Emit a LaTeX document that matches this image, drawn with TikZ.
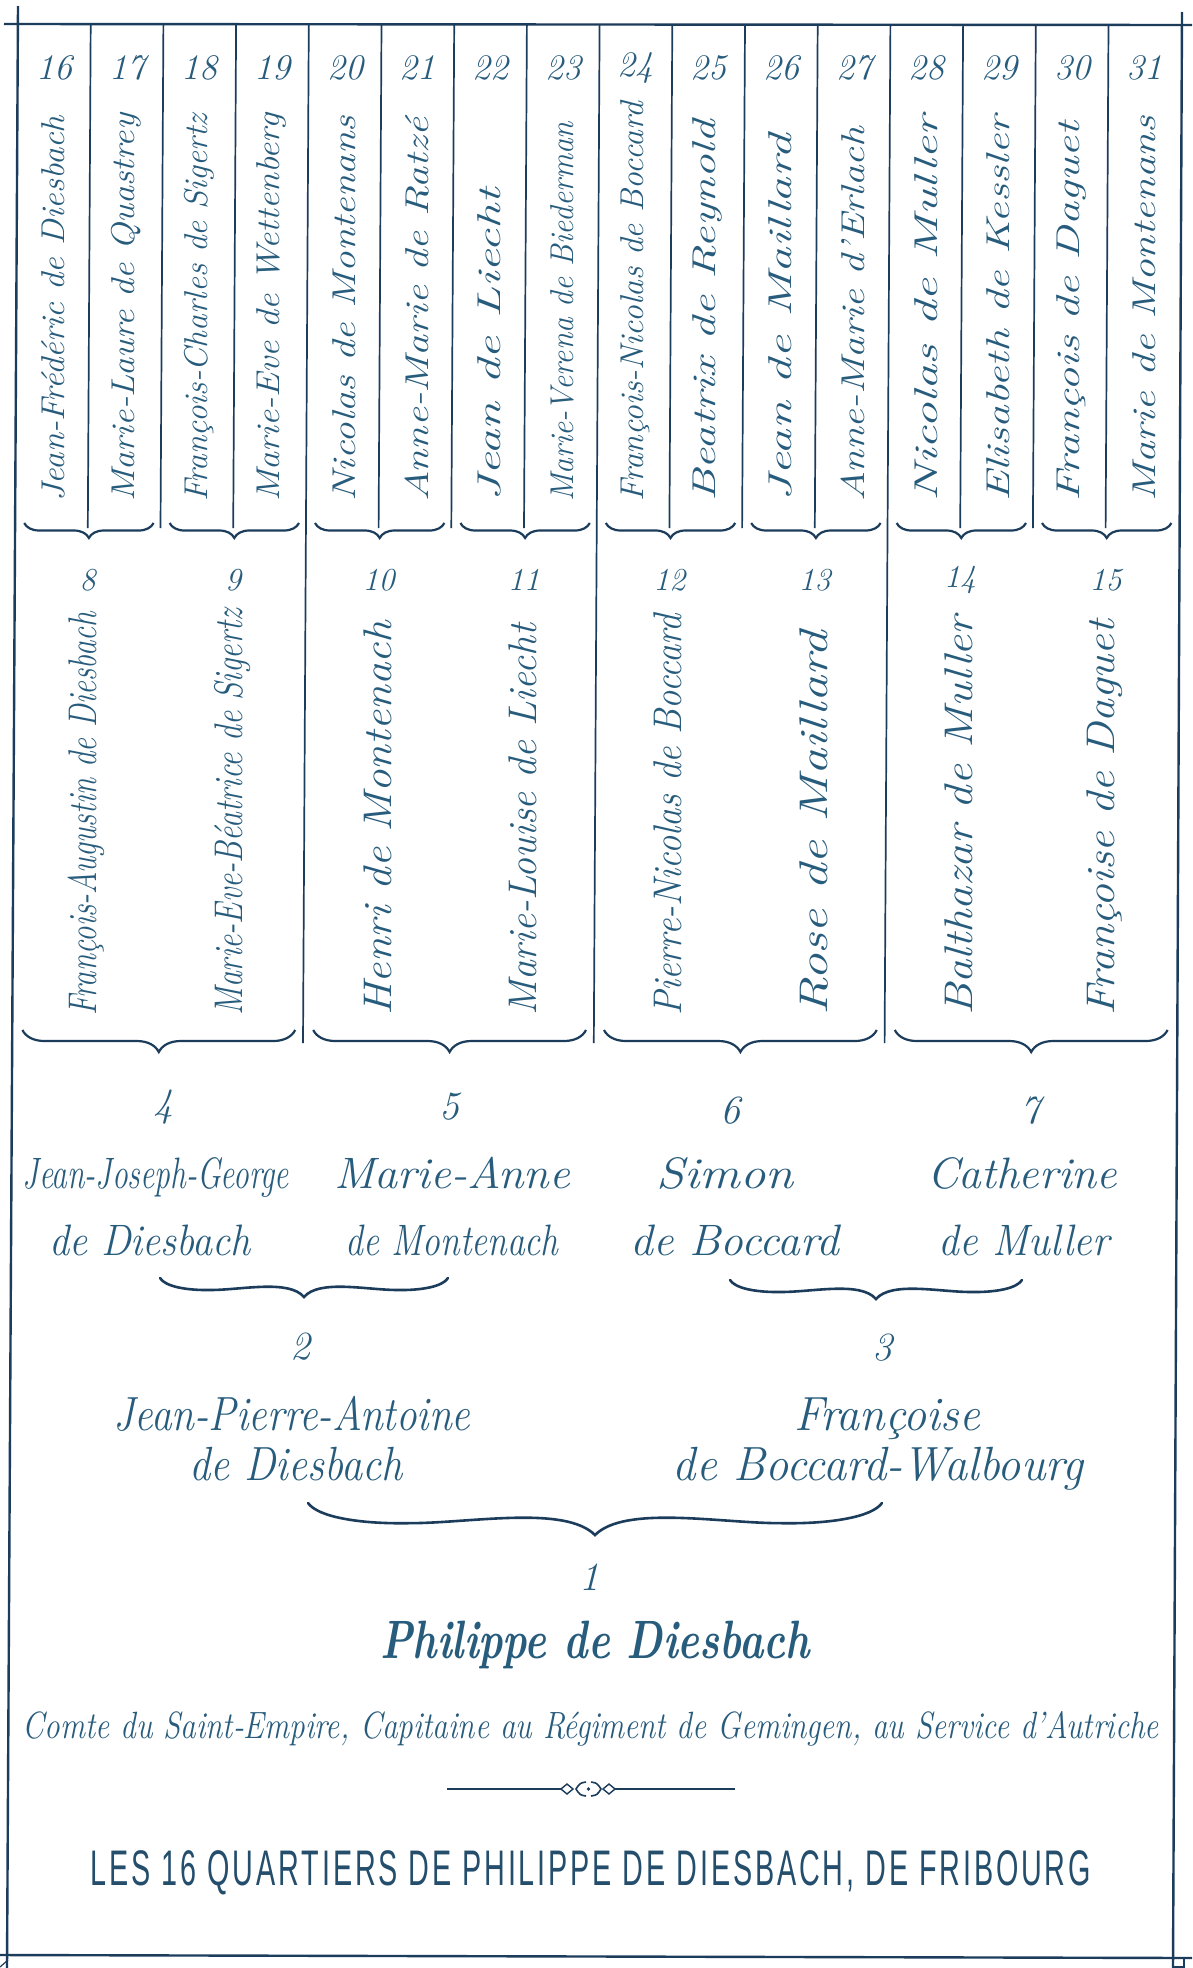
\documentclass[tikz,border=0pt]{standalone}
\usepackage{fontspec}
\usepackage{graphicx}
\usetikzlibrary{decorations.pathreplacing}
\newfontfamily\titlefont[LetterSpace=10]{Liberation Sans}
\definecolor{ink}{RGB}{40,92,125}
\definecolor{rulec}{RGB}{28,60,92}
\definecolor{titlec}{RGB}{36,78,108}
\newcommand\fitw[3]{\resizebox{#1pt}{\height}{\fontsize{#2pt}{#2pt}\selectfont\addfontfeature{FakeBold=1.3}#3}}
\newcommand\fitt[3]{\resizebox{#1pt}{\height}{\fontsize{#2pt}{#2pt}\selectfont #3}}
% calligraphic brace: left coord, right coord, x1, x2, y of tips, depth of cusp
\newcommand\wbrace[6]{%
  \pgfmathsetmacro\wbh{(#4-#3)/2}%
  \draw[wbr] (#1) .. controls ({#3+0.035*\wbh},{#5+0.44*#6}) and ({#3+0.18*\wbh},{#5+0.66*#6}) .. ({#3+0.355*\wbh},{#5+0.63*#6})
    .. controls ({#3+0.565*\wbh},{#5+0.63*#6}) and ({#3+0.895*\wbh},{#5+0.06*#6}) .. ({#3+\wbh},{#5+#6})
    .. controls ({#4-0.895*\wbh},{#5+0.06*#6}) and ({#4-0.565*\wbh},{#5+0.63*#6}) .. ({#4-0.355*\wbh},{#5+0.63*#6})
    .. controls ({#4-0.18*\wbh},{#5+0.66*#6}) and ({#4-0.035*\wbh},{#5+0.44*#6}) .. (#2);}
\begin{document}
\begin{tikzpicture}[x=1pt,y=-1pt,
  borderline/.style={draw=rulec, line width=2.4pt},
  divider/.style={draw=rulec, line width=1.7pt},
  bracel/.style={draw=rulec, line width=2.2pt, decorate, decoration={brace, mirror, amplitude=#1}},
  wbr/.style={draw=rulec, line width=2.6pt, line cap=round},
  num/.style={text=ink, inner sep=0pt, font=\fontsize{#1pt}{#1pt}\selectfont\itshape\addfontfeature{FakeBold=0.8}},
  vname/.style={text=ink, rotate=90, anchor=west, inner sep=0pt, font=\itshape},
  hname/.style={text=ink, anchor=base, inner sep=0pt, font=\itshape},
]
\useasboundingbox (0,0) rectangle (1192,1968);
\fill[white] (0,0) rectangle (1192,1968);

% frame
\draw[borderline] (4,24) -- (1192,25);
\draw[borderline] (18,6) -- (7,1968);
\draw[borderline] (1182,12) -- (1173,1968);
\draw[borderline] (0,1955) -- (1192,1958);
\draw[rulec, line width=1.2pt] (0,1967) -- (8,1960);
\draw[rulec, line width=1.2pt] (1173,1967) -- (1184,1967) -- (1184,1958);

% dividers
\foreach \kk in {1,2,3,5,6,7,9,10,11,13,14,15}
  \draw[divider] ({18+72.7*\kk},25) -- ({18+72.7*\kk-2.9},528);
\foreach \kk in {4,8,12}
  \draw[divider] ({18+72.7*\kk},25) -- ({18+72.7*\kk-5.8},1043);

% top row: generation 5
\foreach \kk/\nn/\nm/\tw in {
  0/16/Jean-Frédéric de Diesbach/386,
  1/17/Marie-Laure de Quastrey/388,
  2/18/François-Charles de Sigertz/388,
  3/19/Marie-Eve de Wettenberg/388,
  4/20/Nicolas de Montenans/386,
  5/21/Anne-Marie de Ratzé/384,
  6/22/Jean de Liecht/314,
  7/23/Marie-Verena de Biederman/380,
  8/24/François-Nicolas de Boccard/400,
  9/25/Beatrix de Reynold/382,
  10/26/Jean de Maillard/368,
  11/27/Anne-Marie d’Erlach/375,
  12/28/Nicolas de Muller/386,
  13/29/Elisabeth de Kessler/386,
  14/30/François de Daguet/380,
  15/31/Marie de Montenans/386}{
  \node[num=36] (n\nn) at ({18+72.7*(\kk+0.5)},68) {\nn};
  \node[vname] (p\nn) at ({18+72.7*(\kk+0.5)-1},502) {\fitw{\tw}{33}{\nm}};
}

% top braces
\foreach \jj in {0,...,7}{
  \coordinate (tbl\jj) at ({18+145.4*\jj+9-2.8},523);
  \coordinate (tbr\jj) at ({18+145.4*(\jj+1)-7-2.8},523);
  \draw[bracel=15] (tbl\jj) -- (tbr\jj);
}

% middle row: generation 4
\foreach \jj/\nn/\nm/\tw in {
  0/8/François-Augustin de Diesbach/404,
  1/9/Marie-Eve-Béatrice de Sigertz/407,
  2/10/Henri de Montenach/395,
  3/11/Marie-Louise de Liecht/392,
  4/12/Pierre-Nicolas de Boccard/402,
  5/13/Rose de Maillard/385,
  6/14/Balthazar de Muller/400,
  7/15/Françoise de Daguet/396}{
  \node[num=32] (n\nn) at ({18+145.4*\jj+72.7-3},580) {\nn};
  \node[vname] (p\nn) at ({18+145.4*\jj+72.7-4},1016) {\fitw{\tw}{40}{\nm}};
}

% middle braces
\foreach \qq in {0,...,3}{
  \coordinate (mbl\qq) at ({18+290.8*\qq+10-5.6},1030);
  \coordinate (mbr\qq) at ({18+290.8*(\qq+1)-8-5.6},1030);
  \draw[bracel=22] (mbl\qq) -- (mbr\qq);
}

% generation 3
\node[num=40] (n4) at (163,1107) {4};
\node[num=40] (n5) at (449,1107) {5};
\node[num=40] (n6) at (730,1111) {6};
\node[num=40] (n7) at (1030,1111) {7};
\node[hname] (p4) at (156,1188) {\fitw{266}{44}{Jean-Joseph-George}};
\node[hname] (p4s) at (150,1255) {\fitw{202}{44}{de Diesbach}};
\node[hname] (p5) at (452,1188) {\fitw{236}{44}{Marie-Anne}};
\node[hname] (p5s) at (452,1255) {\fitw{213}{44}{de Montenach}};
\node[hname] (p6) at (725,1188) {\fitw{137}{44}{Simon}};
\node[hname] (p6s) at (735,1255) {\fitw{209}{44}{de Boccard}};
\node[hname] (p7) at (1022,1188) {\fitw{190}{44}{Catherine}};
\node[hname] (p7s) at (1024,1255) {\fitw{171}{44}{de Muller}};

\coordinate (b45l) at (160,1278);
\coordinate (b45r) at (448,1278);
\coordinate (b67l) at (730,1280);
\coordinate (b67r) at (1022,1280);
\wbrace{b45l}{b45r}{160}{448}{1278}{19}
\wbrace{b67l}{b67r}{730}{1022}{1280}{19}

% generation 2
\node[num=40] (n2) at (300,1347) {2};
\node[num=40] (n3) at (882,1348) {3};
\node[hname] (p2) at (292,1430) {\fitw{357}{48}{Jean-Pierre-Antoine}};
\node[hname] (p2s) at (296,1480) {\fitw{213}{48}{de Diesbach}};
\node[hname] (p3) at (887,1430) {\fitw{186}{48}{Françoise}};
\node[hname] (p3s) at (878,1480) {\fitw{410}{48}{de Boccard-Walbourg}};

\coordinate (b23l) at (308,1503);
\coordinate (b23r) at (882,1503);
\wbrace{b23l}{b23r}{308}{882}{1503}{32}

% generation 1
\node[num=40] (n1) at (589,1577) {1};
\node[hname, font=\bfseries\itshape] (p1) at (595,1658) {\fitw{429}{54}{Philippe de Diesbach}};
\node[hname] (sub) at (591,1738) {\fitw{1136}{38}{Comte du Saint-Empire, Capitaine au Régiment de Gemingen, au Service d’Autriche}};

% ornament
\coordinate (ol) at (447,1789);
\coordinate (or) at (735,1789);
\draw[rulec, line width=1.6pt] (ol) -- (562,1789);
\draw[rulec, line width=1.6pt] (614,1789) -- (or);
\draw[rulec, line width=1.4pt] (561,1789) -- (567,1784) -- (573,1789) -- (567,1794) -- cycle;
\draw[rulec, line width=1.4pt] (603,1789) -- (609,1784) -- (615,1789) -- (609,1794) -- cycle;
\draw[rulec, line width=1.6pt] (586,1782) .. controls (580,1783) .. (576,1789) .. controls (580,1795) .. (586,1796);
\draw[rulec, line width=1.6pt] (591,1782) .. controls (597,1783) .. (601,1789) .. controls (597,1795) .. (591,1796);
\fill[rulec] (588.5,1789) circle (1.8);

% title
\node[anchor=base, inner sep=0pt, text=titlec] (title) at (591,1885) {\fitt{1000}{50}{\titlefont LES 16 QUARTIERS DE PHILIPPE DE DIESBACH, DE FRIBOURG}};
\end{tikzpicture}
\end{document}
